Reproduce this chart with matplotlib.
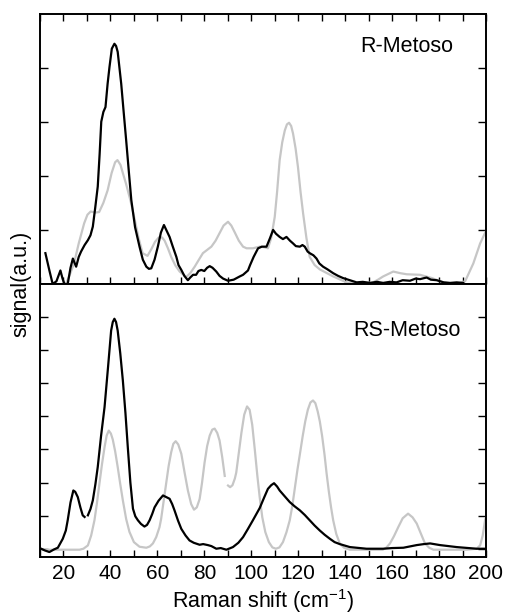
import matplotlib
matplotlib.use("Agg")
import matplotlib.pyplot as plt
import numpy as np

plt.rcParams['font.family'] = ['Liberation Sans', 'DejaVu Sans']
plt.rcParams['mathtext.default'] = 'regular'

nan = np.nan

# R-Metoso, measured spectrum (black)
r_exp_x = [12.3, 14.0, 15.4, 17.0, 18.7, 19.6, 20.4, 21.8, 23.0, 24.0, 25.4, 26.5, 27.5, 29.0,
           30.4, 31.5, 32.5, 33.5, 34.6, 35.4, 36.1, 37.0, 37.9, 38.8, 39.6, 40.6, 41.7, 42.4,
           43.1, 44.6, 45.6, 46.7, 47.8, 48.9, 50.5, 52.4, 53.8, 55.3, 56.4, 57.4, 58.8, 60.2,
           61.5, 62.8, 64.0, 65.2, 66.5, 68.1, 69.0, 70.2, 71.5, 73.0, 74.0, 75.2, 76.5, 77.5,
           78.7, 80.0, 81.2, 82.3, 83.5, 85.1, 86.5, 88.0, 90.1, 92.5, 95.1, 96.5, 98.6, 99.5,
           101.0, 102.9, 104.5, 106.5, 108.0, 109.3, 110.5, 112.1, 113.5, 115.0, 116.5, 117.8,
           119.0, 120.7, 121.8, 122.8, 124.0, 124.9, 126.5, 127.8, 129.0, 130.6, 132.5, 134.9,
           137.0, 139.1, 142.0, 144.9, 147.5, 150.6, 153.5, 156.2, 159.0, 161.9, 164.5, 167.6,
           170.0, 171.9, 174.7, 176.5, 179.0, 182.0, 184.7, 187.5, 190.3]
r_exp_y = [0.57, 0.25, 0.0, 0.05, 0.25, 0.1, 0.0, 0.0, 0.3, 0.47, 0.32, 0.5, 0.6, 0.72,
           0.81, 0.9, 1.06, 1.4, 1.8, 2.4, 3.0, 3.18, 3.27, 3.7, 4.01, 4.35, 4.44, 4.4,
           4.29, 3.7, 3.2, 2.66, 2.1, 1.55, 1.05, 0.69, 0.45, 0.32, 0.28, 0.29, 0.45, 0.69,
           0.95, 1.09, 0.98, 0.87, 0.7, 0.5, 0.35, 0.26, 0.15, 0.07, 0.12, 0.17, 0.17, 0.24,
           0.26, 0.24, 0.3, 0.33, 0.3, 0.23, 0.15, 0.1, 0.06, 0.08, 0.14, 0.17, 0.25, 0.35,
           0.5, 0.66, 0.69, 0.69, 0.85, 1.0, 0.93, 0.87, 0.83, 0.87, 0.8, 0.75,
           0.7, 0.69, 0.72, 0.69, 0.6, 0.57, 0.53, 0.47, 0.38, 0.32, 0.27, 0.2,
           0.15, 0.11, 0.07, 0.03, 0.04, 0.02, 0.04, 0.02, 0.04, 0.03, 0.07, 0.06,
           0.1, 0.09, 0.12, 0.08, 0.07, 0.03, 0.02, 0.03, 0.02]

# R-Metoso, calculated spectrum (grey)
r_calc_x = [19.5, 21.0, 22.5, 24.5, 26.5, 28.8, 30.2, 31.6, 33.5, 35.2, 37.0, 38.8, 40.5, 42.0,
            43.0, 44.3, 45.5, 46.6, 48.5, 50.1, 52.0, 53.7, 55.8, 57.5, 59.0, 60.6, 62.0,
            63.1, 64.5, 65.9, 67.7, 69.5, 72.3, 74.0, 75.9, 77.7, 79.4, 83.0, 84.8, 86.5,
            88.2, 90.1, 91.5, 92.9, 94.7, 96.5, 98.0, 100.7, 103.6, 105.5, 107.1, 108.5,
            110.0, 111.0, 112.1, 113.2, 114.3, 115.2, 116.1, 117.0, 117.8, 118.9, 119.9,
            121.0, 122.1, 123.5, 124.9, 127.0, 129.2, 134.9, 140.6, 146.3, 151.9, 154.0,
            156.2, 160.5, 163.5, 166.2, 171.9, 176.9, 181.8, 187.5, 191.1, 194.6, 197.5, 200.2]
r_calc_y = [0.0, 0.0, 0.15, 0.38, 0.75, 1.12, 1.28, 1.34, 1.32, 1.33, 1.5, 1.73, 2.05, 2.25,
            2.29, 2.2, 2.02, 1.86, 1.55, 1.24, 0.85, 0.57, 0.52, 0.65, 0.78, 0.86, 0.86,
            0.8, 0.66, 0.5, 0.34, 0.23, 0.13, 0.2, 0.32, 0.45, 0.57, 0.69, 0.8, 0.94,
            1.08, 1.15, 1.08, 0.96, 0.8, 0.69, 0.66, 0.66, 0.69, 0.68, 0.66, 0.85,
            1.24, 1.7, 2.29, 2.62, 2.84, 2.95, 2.98, 2.92, 2.78, 2.5, 2.16,
            1.7, 1.3, 0.85, 0.5, 0.35, 0.27, 0.14, 0.03, 0.01, 0.03, 0.08,
            0.14, 0.23, 0.2, 0.18, 0.17, 0.11, 0.03, 0.0, 0.05, 0.38, 0.75, 1.0]

# RS-Metoso, measured spectrum (black)
rs_exp_x = [10.5, 12.0, 14.0, 16.0, 17.6, 19.7, 21.0, 21.8, 23.0, 24.2, 25.0, 26.1, 27.2, 28.2,
            29.0, 29.7, 30.4, 31.5, 32.5, 33.6, 34.6, 36.0, 37.5, 39.0, 40.3, 41.0, 41.7,
            42.4, 43.1, 44.2, 45.3, 46.4, 47.4, 48.5, 49.6, 50.6, 51.7, 53.0, 54.5, 55.6,
            56.7, 57.8, 58.8, 60.5, 62.4, 63.8, 65.2, 66.3, 67.3, 68.8, 70.2, 72.0, 73.7,
            75.5, 78.0, 79.5, 81.5, 83.0, 85.1, 87.0, 89.4, 92.2, 94.5, 96.5, 98.6, 100.7,
            103.6, 105.5, 107.1, 108.5, 109.7, 111.0, 112.1, 114.3, 116.4, 118.5, 120.7,
            122.8, 124.9, 127.0, 129.2, 131.3, 133.5, 135.5, 137.7, 142.0, 149.1, 156.2,
            160.0, 164.8, 170.5, 173.5, 176.2, 180.4, 187.5, 196.0, 200.0]
rs_exp_y = [0.0, -0.05, -0.1, -0.02, 0.03, 0.3, 0.55, 0.86, 1.4, 1.76, 1.72, 1.56, 1.25, 1.01,
            0.96, nan, 1.01, 1.2, 1.46, 1.95, 2.47, 3.4, 4.28, 5.5, 6.59, 6.85, 6.95,
            6.85, 6.59, 5.9, 5.08, 4.1, 3.07, 2.0, 1.21, 0.98, 0.86, 0.75, 0.67, 0.72,
            0.86, 1.05, 1.25, 1.45, 1.61, 1.56, 1.51, 1.35, 1.16, 0.85, 0.6, 0.4, 0.25,
            0.18, 0.12, 0.14, 0.11, 0.08, 0.0, 0.02, -0.03, 0.05, 0.18, 0.35, 0.6, 0.86,
            1.23, 1.55, 1.81, 1.92, 1.98, 1.88, 1.76, 1.58, 1.41, 1.28, 1.16,
            1.02, 0.86, 0.7, 0.55, 0.42, 0.3, 0.2, 0.14, 0.05, 0.0, 0.0,
            0.02, 0.03, 0.11, 0.14, 0.16, 0.11, 0.05, 0.0, 0.0]

# RS-Metoso, calculated spectrum (grey)
rs_calc_x = [10.0, 26.8, 28.5, 30.4, 31.8, 33.2, 34.2, 35.3, 36.4, 37.5, 38.4, 39.3, 40.2, 41.0,
             42.0, 43.1, 44.2, 45.3, 46.7, 48.1, 50.0, 52.4, 55.3, 56.8, 58.1, 59.5, 60.9,
             61.6, 62.3, 63.0, 63.8, 64.8, 65.9, 66.8, 67.8, 68.9, 70.2, 71.6, 73.0, 74.4,
             75.6, 76.8, 78.0, 79.0, 80.1, 81.2, 82.3, 83.4, 84.4, 85.5, 86.5, 87.6, 88.7,
             89.4, 90.1, 91.0, 92.0, 93.0, 93.6, 94.7, 95.8, 97.0, 98.2, 99.3, 100.4, 101.5,
             102.6, 103.6, 104.7, 106.0, 107.5, 109.0, 110.5, 112.0, 113.5, 115.0, 116.4,
             117.5, 118.6, 119.7, 120.7, 121.9, 123.0, 124.1, 125.2, 126.3, 127.3, 128.3,
             129.2, 130.2, 131.2, 132.1, 133.1, 134.0, 134.9, 136.2, 137.7, 139.5, 142.0,
             156.0, 157.5, 159.1, 160.8, 162.6, 164.5, 166.8, 168.7, 170.5, 172.3, 174.0,
             175.8, 177.6, 191.8, 196.0, 197.5, 198.6, 199.6, 200.2]
rs_calc_y = [-0.03, -0.03, 0.0, 0.1, 0.4, 0.86, 1.35, 1.96, 2.55, 3.07, 3.42, 3.57, 3.48, 3.3,
             2.95, 2.47, 1.95, 1.46, 0.9, 0.51, 0.2, 0.06, 0.03, 0.07, 0.16, 0.35, 0.65,
             0.9, 1.25, 1.6, 2.0, 2.5, 2.92, 3.17, 3.25, 3.15, 2.87, 2.3, 1.76, 1.35,
             1.18, 1.25, 1.5, 1.98, 2.6, 3.1, 3.42, 3.6, 3.63, 3.5, 3.27, 2.78, 2.2,
             nan, 1.91, 1.86, 1.92, 2.12, 2.3, 2.9, 3.5, 4.05, 4.3, 4.2, 3.75, 3.0,
             2.2, 1.55, 0.95, 0.5, 0.2, 0.04, 0.0, 0.04, 0.2, 0.5, 0.86,
             1.3, 1.85, 2.4, 2.85, 3.4, 3.85, 4.2, 4.42, 4.48, 4.4, 4.15,
             3.85, 3.4, 2.85, 2.27, 1.7, 1.25, 0.86, 0.45, 0.16, 0.03, -0.03,
             -0.03, 0.03, 0.16, 0.38, 0.65, 0.92, 1.06, 0.95, 0.76, 0.45, 0.16,
             0.03, -0.03, -0.03, 0.0, 0.1, 0.4, 0.86, 1.0]

panel_names = ["R-Metoso", "RS-Metoso"]
x_ticks = np.arange(10, 201, 10)
x_labels = [str(t) if t % 20 == 0 else "" for t in x_ticks]

W, H = 507, 614
fig = plt.figure(figsize=(W / 100, H / 100), dpi=100)
ax1 = fig.add_axes([40 / W, 1 - 284 / H, 446 / W, 270 / H])
ax2 = fig.add_axes([40 / W, 1 - 557 / H, 446 / W, 273 / H])

black = dict(color="black", lw=1.6, solid_joinstyle="round")
grey = dict(color="#c6c6c6", lw=1.6, solid_joinstyle="round")

ax1.plot(r_calc_x, r_calc_y, **grey)
ax1.plot(r_exp_x, r_exp_y, **black)
ax2.plot(rs_calc_x, rs_calc_y, **grey)
ax2.plot(rs_exp_x, rs_exp_y, **black)

ax1.set_ylim(0, 4.99)
ax2.set_ylim(-0.25, 8.0)
ax1.set_yticks(range(0, 5))
ax2.set_yticks(range(0, 8))

for ax in (ax1, ax2):
    ax.set_xlim(10, 200)
    ax.set_xticks(x_ticks)
    ax.set_yticklabels([])
    for s in ax.spines.values():
        s.set_linewidth(1.4)
    ax.tick_params(axis="x", direction="in", length=5, width=1.0)
    ax.tick_params(axis="y", direction="in", length=6, width=1.0,
                   left=True, right=True)

ax1.tick_params(axis="x", top=True, bottom=True, labelbottom=False)
ax2.tick_params(axis="x", top=False, bottom=True, labelsize=15, pad=5)
ax2.set_xticklabels(x_labels)

fig.text(407 / W, 1 - 51.5 / H, panel_names[0], ha="center", va="baseline", fontsize=15.5)
fig.text(407 / W, 1 - 335.5 / H, panel_names[1], ha="center", va="baseline", fontsize=15.5)
fig.text(263 / W, 6 / H, "Raman shift (cm$^{-1}$)", ha="center", va="baseline", fontsize=15.5)
fig.text(21 / W, 1 - 284 / H, "signal(a.u.)", rotation=90, ha="center", va="center", fontsize=15.5)

fig.savefig("out.png", dpi=100)
